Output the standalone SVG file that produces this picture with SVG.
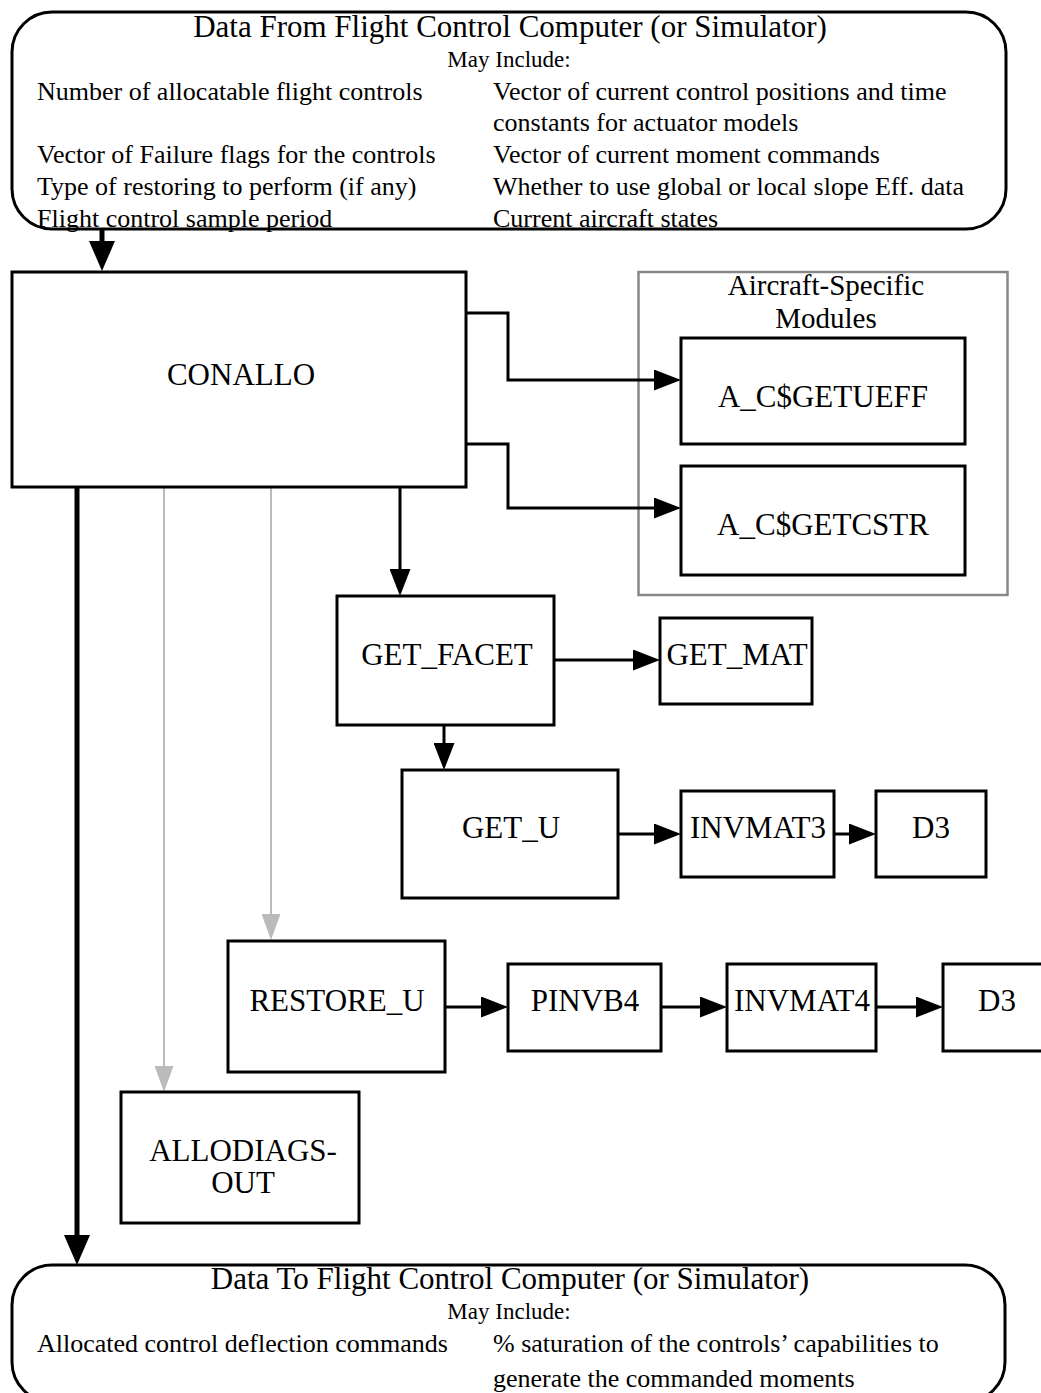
<svg xmlns="http://www.w3.org/2000/svg" width="1041" height="1393" viewBox="0 0 1041 1393">
<style>
text{font-family:"Liberation Serif","Times New Roman",serif;fill:#000}
.t{font-size:31px;text-anchor:middle}
.m{font-size:23px;text-anchor:middle}
.b{font-size:26px}
.n{font-size:31px;text-anchor:middle}
.g{font-size:29px;text-anchor:middle}
.box{fill:#fff;stroke:#000;stroke-width:3}
.grp{fill:none;stroke:#888;stroke-width:2.5}
.c{fill:none;stroke:#000;stroke-width:3}
.ck{fill:none;stroke:#000;stroke-width:5}
.cg{fill:none;stroke:#bbb;stroke-width:2}
</style>
<defs>
<marker id="ah" markerUnits="userSpaceOnUse" markerWidth="27" markerHeight="21" refX="0" refY="10.5" orient="auto"><path d="M0,0 L27,10.5 L0,21 z" fill="#000"/></marker>
<marker id="ahk" markerUnits="userSpaceOnUse" markerWidth="30" markerHeight="26" refX="0" refY="13" orient="auto"><path d="M0,0 L30,13 L0,26 z" fill="#000"/></marker>
<marker id="ahg" markerUnits="userSpaceOnUse" markerWidth="26" markerHeight="19" refX="0" refY="9.5" orient="auto"><path d="M0,0 L26,9.5 L0,19 z" fill="#bbb"/></marker>
</defs>
<rect width="1041" height="1393" fill="#fff"/>

<g id="data-from">
<rect x="12" y="12" width="994" height="217" rx="40" ry="40" class="box"/>
<text x="510" y="37" class="t">Data From Flight Control Computer (or Simulator)</text>
<text x="509" y="67" class="m">May Include:</text>
<text x="37" y="100" class="b">Number of allocatable flight controls</text>
<text x="493" y="100" class="b">Vector of current control positions and time</text>
<text x="493" y="131" class="b">constants for actuator models</text>
<text x="37" y="163" class="b">Vector of Failure flags for the controls</text>
<text x="493" y="163" class="b">Vector of current moment commands</text>
<text x="37" y="195" class="b">Type of restoring to perform (if any)</text>
<text x="493" y="195" class="b">Whether to use global or local slope Eff. data</text>
<text x="37" y="227" class="b">Flight control sample period</text>
<text x="493" y="227" class="b">Current aircraft states</text>
</g>

<g id="aircraft-specific">
<rect x="638.5" y="272" width="369" height="323" class="grp"/>
<text x="826" y="295" class="g">Aircraft-Specific</text>
<text x="826" y="328" class="g">Modules</text>
</g>

<g id="connectors">
<path d="M102,229 V241" class="ck" marker-end="url(#ahk)"/>
<path d="M77,487 V1235" class="ck" marker-end="url(#ahk)"/>
<path d="M164,487 V1066" class="cg" marker-end="url(#ahg)"/>
<path d="M271,487 V914" class="cg" marker-end="url(#ahg)"/>
<path d="M400,487 V569" class="c" marker-end="url(#ah)"/>
<path d="M466,313 H508 V380 H654" class="c" marker-end="url(#ah)"/>
<path d="M466,444 H508 V508 H654" class="c" marker-end="url(#ah)"/>
<path d="M554,660 H633" class="c" marker-end="url(#ah)"/>
<path d="M444,725 V743" class="c" marker-end="url(#ah)"/>
<path d="M618,834 H654" class="c" marker-end="url(#ah)"/>
<path d="M834,834 H849" class="c" marker-end="url(#ah)"/>
<path d="M445,1007 H481" class="c" marker-end="url(#ah)"/>
<path d="M661,1007 H700" class="c" marker-end="url(#ah)"/>
<path d="M876,1007 H916" class="c" marker-end="url(#ah)"/>
</g>

<g id="conallo">
<rect x="12" y="272" width="454" height="215" class="box"/>
<text x="241" y="385" class="n">CONALLO</text>
</g>
<g id="getueff">
<rect x="681" y="338" width="284" height="106" class="box"/>
<text x="823" y="407" class="n">A_C$GETUEFF</text>
</g>
<g id="getcstr">
<rect x="681" y="466" width="284" height="109" class="box"/>
<text x="823" y="535" class="n">A_C$GETCSTR</text>
</g>
<g id="get-facet">
<rect x="337" y="596" width="217" height="129" class="box"/>
<text x="447" y="665" class="n">GET_FACET</text>
</g>
<g id="get-mat">
<rect x="660" y="618" width="152" height="86" class="box"/>
<text x="737" y="665" class="n">GET_MAT</text>
</g>
<g id="get-u">
<rect x="402" y="770" width="216" height="128" class="box"/>
<text x="511" y="838" class="n">GET_U</text>
</g>
<g id="invmat3">
<rect x="681" y="791" width="153" height="86" class="box"/>
<text x="758" y="838" class="n">INVMAT3</text>
</g>
<g id="d3-a">
<rect x="876" y="791" width="110" height="86" class="box"/>
<text x="931" y="838" class="n">D3</text>
</g>
<g id="restore-u">
<rect x="228" y="941" width="217" height="131" class="box"/>
<text x="337" y="1011" class="n">RESTORE_U</text>
</g>
<g id="pinvb4">
<rect x="508" y="964" width="153" height="87" class="box"/>
<text x="585" y="1011" class="n">PINVB4</text>
</g>
<g id="invmat4">
<rect x="727" y="964" width="149" height="87" class="box"/>
<text x="802" y="1011" class="n">INVMAT4</text>
</g>
<g id="d3-b">
<rect x="943" y="964" width="110" height="87" class="box"/>
<text x="997" y="1011" class="n">D3</text>
</g>
<g id="allodiags-out">
<rect x="121" y="1092" width="238" height="131" class="box"/>
<text x="243" y="1161" class="n">ALLODIAGS-</text>
<text x="243" y="1193" class="n">OUT</text>
</g>

<g id="data-to">
<rect x="12" y="1265" width="993" height="137" rx="40" ry="40" class="box"/>
<text x="510" y="1289" class="t">Data To Flight Control Computer (or Simulator)</text>
<text x="509" y="1319" class="m">May Include:</text>
<text x="37" y="1352" class="b">Allocated control deflection commands</text>
<text x="493" y="1352" class="b">% saturation of the controls’ capabilities to</text>
<text x="493" y="1387" class="b">generate the commanded moments</text>
</g>
</svg>
